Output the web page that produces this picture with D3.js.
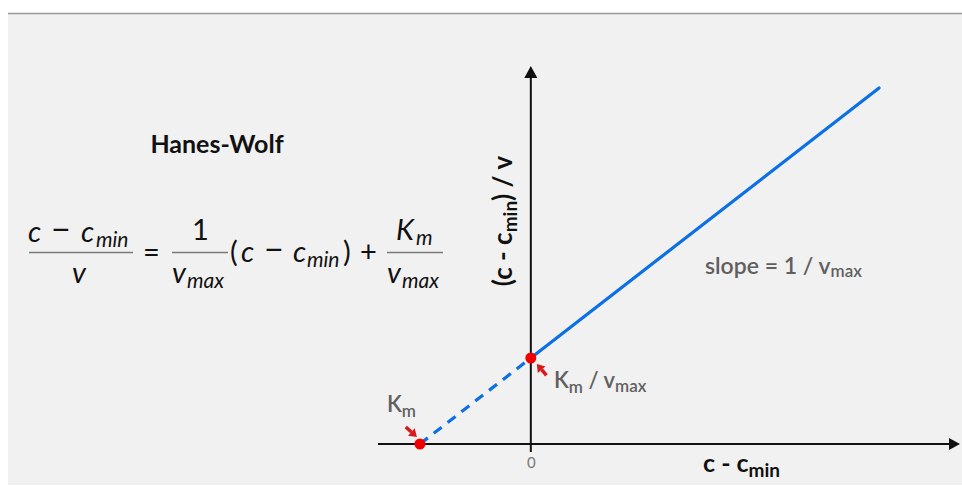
<!DOCTYPE html>
<html>
<head>
<meta charset="utf-8">
<script src="https://cdn.jsdelivr.net/npm/d3@7"></script>
<style>
  html, body { margin: 0; padding: 0; background: #fff; }
  svg { display: block; }
  text { font-family: Lato, "Noto Sans", sans-serif; }
</style>
</head>
<body>
<svg id="chart" width="962" height="486"></svg>
<script>
// Hanes-Wolf linearisation: (c - cmin)/v plotted against (c - cmin)
// Units: x in multiples of Km, y in multiples of Km/vmax (Km = vmax = 1)
const xDomain = [-1.378, 3.87];
const yDomain = [-0.093, 4.395];
const xTickValues = [0];
const xTickLabels = ["0"];

// extrapolated part (dashed) and measured range (solid)
const extrapolated = [[-1, 0], [0, 1]];
const fitted = [[0, 1], [3.14, 4.14]];

// highlighted points: x-intercept (-Km) and y-intercept (Km/vmax)
const keyPoints = [
  { name: "Km", x: -1, y: 0 },
  { name: "KmOverVmax", x: 0, y: 1 }
];

const svg = d3.select("#chart");
const W = 962;

// panel background and top rule
svg.append("rect").attr("x", 8).attr("y", 13).attr("width", W - 8).attr("height", 472)
  .attr("fill", "#f1f1f1");
svg.append("line").attr("x1", 8).attr("x2", W).attr("y1", 13.5).attr("y2", 13.5)
  .attr("stroke", "#9a9a9a").attr("stroke-width", 1.5);

const x = d3.scaleLinear().domain(xDomain).range([378, 960]);
const y = d3.scaleLinear().domain(yDomain).range([452, 66]);

const axisColor = "#111";

// x axis with arrow
svg.append("line")
  .attr("x1", x(xDomain[0])).attr("x2", x(xDomain[1]) - 8)
  .attr("y1", y(0)).attr("y2", y(0))
  .attr("stroke", axisColor).attr("stroke-width", 2);
svg.append("path")
  .attr("d", d3.line()([[x(xDomain[1]), y(0)], [x(xDomain[1]) - 11, y(0) - 6], [x(xDomain[1]) - 11, y(0) + 6]]) + "Z")
  .attr("fill", axisColor);

// y axis with arrow
svg.append("line")
  .attr("x1", x(0)).attr("x2", x(0))
  .attr("y1", y(yDomain[0])).attr("y2", y(yDomain[1]) + 8)
  .attr("stroke", axisColor).attr("stroke-width", 2);
svg.append("path")
  .attr("d", d3.line()([[x(0), y(yDomain[1])], [x(0) - 6.5, y(yDomain[1]) + 12], [x(0) + 6.5, y(yDomain[1]) + 12]]) + "Z")
  .attr("fill", axisColor);

// tick label at the origin
const xAxis = d3.axisBottom(x)
  .tickValues(xTickValues)
  .tickFormat((d, i) => xTickLabels[i])
  .tickSize(0)
  .tickPadding(13);
const gx = svg.append("g").attr("transform", `translate(0,${y(0)})`).call(xAxis);
gx.select(".domain").remove();
gx.selectAll("text")
  .attr("fill", "#777").attr("font-size", 15)
  .attr("font-family", "Lato, sans-serif");

// regression line
const line = d3.line().x(d => x(d[0])).y(d => y(d[1]));
const blue = "#0b70e6";
svg.append("path").attr("d", line(extrapolated))
  .attr("fill", "none").attr("stroke", blue).attr("stroke-width", 3.2)
  .attr("stroke-dasharray", "10,7.5");
svg.append("path").attr("d", line(fitted))
  .attr("fill", "none").attr("stroke", blue).attr("stroke-width", 3.2)
  .attr("stroke-linecap", "round");

// intercept markers
svg.selectAll("circle.key").data(keyPoints).join("circle")
  .attr("class", "key")
  .attr("cx", d => x(d.x)).attr("cy", d => y(d.y)).attr("r", 5.5)
  .attr("fill", "#f00000");

// small red pointer arrows toward the intercepts
function pointer(tipX, tipY, angleDeg) {
  const a = angleDeg * Math.PI / 180;
  const len = 15, head = 7.5, hw = 5;
  const ux = Math.cos(a), uy = Math.sin(a);      // direction from tip back toward tail
  const px = -uy, py = ux;
  const bx = tipX + ux * head, by = tipY + uy * head;
  svg.append("line")
    .attr("x1", bx).attr("y1", by)
    .attr("x2", tipX + ux * len).attr("y2", tipY + uy * len)
    .attr("stroke", "#d81a1a").attr("stroke-width", 3.5);
  svg.append("path")
    .attr("d", `M${tipX},${tipY}L${bx + px * hw},${by + py * hw}L${bx - px * hw},${by - py * hw}Z`)
    .attr("fill", "#d81a1a");
}
pointer(x(0) + 6, y(1) + 6, 50);
pointer(x(-1) - 3, y(0) - 7, 222);

// labels near the points
const grey = "#606060";
const t1 = svg.append("text").attr("x", 554).attr("y", 388)
  .attr("font-size", 22).attr("fill", grey).attr("font-weight", 600);
t1.append("tspan").text("K");
t1.append("tspan").attr("font-size", 17).attr("dy", 5).text("m");
t1.append("tspan").attr("dy", -5).text("  / v");
t1.append("tspan").attr("font-size", 17).attr("dy", 4).text("max");

const t2 = svg.append("text").attr("x", 387).attr("y", 412)
  .attr("font-size", 22).attr("fill", grey).attr("font-weight", 600);
t2.append("tspan").text("K");
t2.append("tspan").attr("font-size", 17).attr("dy", 5).text("m");

const t3 = svg.append("text").attr("x", 705).attr("y", 274)
  .attr("font-size", 23).attr("fill", grey).attr("font-weight", 600);
t3.append("tspan").text("slope = 1 / v");
t3.append("tspan").attr("font-size", 17).attr("dy", 3).text("max");

// axis titles
const xt = svg.append("text").attr("x", 703).attr("y", 472)
  .attr("font-size", 25).attr("font-weight", 700).attr("fill", "#111");
xt.append("tspan").text("c - c");
xt.append("tspan").attr("font-size", 19).attr("dy", 5).text("min");

const yt = svg.append("text")
  .attr("transform", "translate(512,221) rotate(-90)")
  .attr("text-anchor", "middle")
  .attr("font-size", 26).attr("font-weight", 700).attr("fill", "#111");
yt.append("tspan").text("(c - c");
yt.append("tspan").attr("font-size", 19).attr("dy", 5).text("min");
yt.append("tspan").attr("dy", -5).text(") / v");

// title and equation
svg.append("text").attr("x", 217).attr("y", 153).attr("text-anchor", "middle")
  .attr("font-size", 25).attr("font-weight", 700).attr("fill", "#111")
  .text("Hanes-Wolf");

const eqColor = "#111";
const mainSize = 29, subSize = 21;
// each glyph run is placed at its own x; "sub" runs sit a little lower
function mathRow(baseline, runs) {
  const t = svg.append("text").attr("y", baseline)
    .attr("font-size", mainSize).attr("font-style", "italic").attr("fill", eqColor);
  runs.forEach(r => {
    t.append("tspan")
      .attr("x", r.x)
      .attr("y", baseline + (r.sub ? 5 : 0))
      .attr("font-size", r.sub ? subSize : (r.size || mainSize))
      .attr("font-style", r.up ? "normal" : "italic")
      .text(r.t);
  });
}
function bar(x1, x2) {
  svg.append("line").attr("x1", x1).attr("x2", x2).attr("y1", 252.5).attr("y2", 252.5)
    .attr("stroke", "#7a7a7a").attr("stroke-width", 1.5);
}

// (c - cmin) / v
mathRow(242, [
  { t: "c", x: 28 }, { t: "\u2212", x: 51, up: true, size: 34 },
  { t: "c", x: 81 }, { t: "min", x: 96, sub: true }
]);
bar(29, 133);
mathRow(283, [{ t: "v", x: 72 }]);

// =
mathRow(262, [{ t: "=", x: 143, up: true }]);

// 1 / vmax
mathRow(240, [{ t: "1", x: 192, up: true }]);
bar(172, 228);
mathRow(283, [{ t: "v", x: 172 }, { t: "max", x: 187, sub: true }]);

// (c - cmin) +
mathRow(262, [
  { t: "(", x: 230, up: true }, { t: "c", x: 241 }, { t: "\u2212", x: 264, up: true, size: 34 },
  { t: "c", x: 293 }, { t: "min", x: 307, sub: true }, { t: ")", x: 343, up: true },
  { t: "+", x: 360, up: true }
]);

// Km / vmax
mathRow(240, [{ t: "K", x: 396 }, { t: "m", x: 416, sub: true }]);
bar(387, 443);
mathRow(283, [{ t: "v", x: 387 }, { t: "max", x: 402, sub: true }]);
</script>
</body>
</html>
